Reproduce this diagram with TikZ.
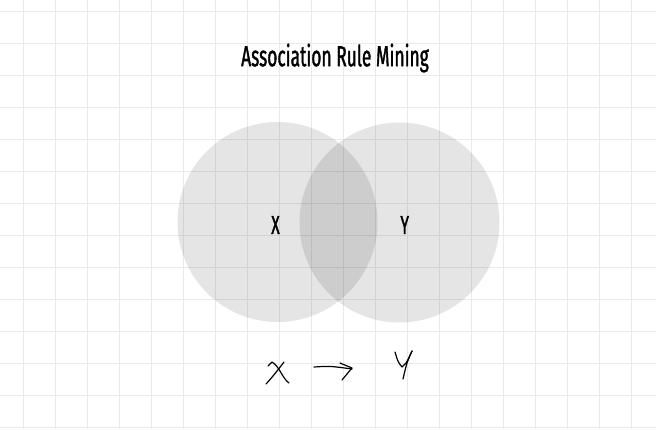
\documentclass[tikz,border=0pt]{standalone}
\usepackage{fontspec}
\newfontfamily\titlefont[FakeStretch=0.6, FakeBold=1.2]{Fira Sans}
\usepackage{tikz}

\tikzset{
  gridline/.style={line width=1pt, draw=gridgray},
  setcircle/.style={circle, fill=black, fill opacity=0.1, minimum size=200pt, inner sep=0pt},
  setlabel/.style={font=\titlefont\fontsize{26}{26}\selectfont, inner sep=0pt},
  hand/.style={line width=1.2pt, line cap=round, line join=round}
}

\begin{document}
\begin{tikzpicture}[x=1pt,y=-1pt]

% Colours
\definecolor{gridgray}{RGB}{234, 234, 234}

% Page size
\useasboundingbox (0,0) rectangle (656,429);
\fill[white] (0,0) rectangle (656,429);

% Background grid
\foreach \gx in {23,55,...,655} \draw[gridline] (\gx,0) -- (\gx,429);
\foreach \gy in {11,43,...,428} \draw[gridline] (0,\gy) -- (656,\gy);

% Title
\node[inner sep=0pt] (title) at (335,58) {\titlefont\fontsize{29}{29}\selectfont Association Rule Mining};

% Sets
\node[setcircle] (setX) at (277.5,222) {};
\node[setcircle] (setY) at (399.5,222.5) {};
\node[setlabel] (labelX) at (275.5,225) {X};
\node[setlabel] (labelY) at (404.7,225) {Y};

% Handwritten rule X -> Y
\draw[hand] (268,366) -- (272,362) .. controls (280,367) and (282,378) .. (289,383); % x
\draw[hand] (266,384) .. controls (274,375) .. (284,362);
\draw[hand] (314,367) .. controls (330,366) .. (352,369); % arrow
\draw[hand] (340,363) -- (352,368) -- (342,380);
\draw[hand] (395,352) .. controls (398,362) .. (402,367) .. controls (406,364) .. (412,351); % y
\draw[hand] (412,351) .. controls (407,362) .. (403,379);

\end{tikzpicture}
\end{document}
